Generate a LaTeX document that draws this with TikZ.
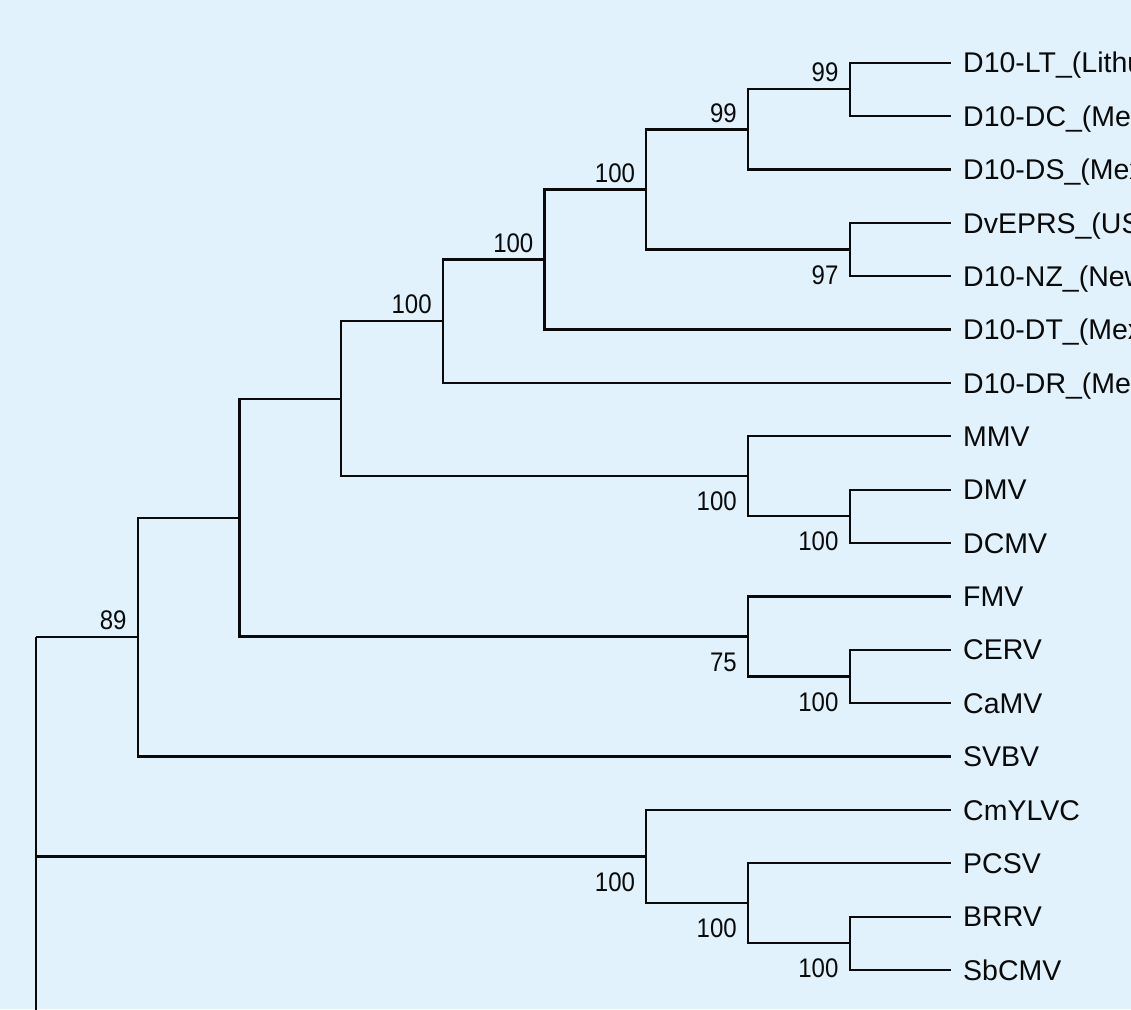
\documentclass[tikz,border=0pt]{standalone}
\usepackage{fontspec}
\setmainfont{Liberation Sans}
\definecolor{bgblue}{RGB}{225,242,252}
\definecolor{inkc}{RGB}{10,10,10}
\begin{document}
\begin{tikzpicture}[x=1pt,y=-1pt,
  branch/.style={line width=2.2pt, draw=inkc, line join=miter},
  leaf/.style={anchor=base west, inner sep=0pt, xshift=11.7pt, yshift=-10.2pt,
    font=\fontsize{28.5}{30}\selectfont, text=inkc},
  bootA/.style={anchor=base east, inner sep=0pt, xshift=-11pt, yshift=7.4pt,
    font=\fontsize{24}{26}\selectfont, text=inkc},
  bootB/.style={anchor=base east, inner sep=0pt, xshift=-11pt, yshift=-34.6pt,
    font=\fontsize{24}{26}\selectfont, text=inkc}]
\useasboundingbox (0,0) rectangle (1131,1009);
\fill[bgblue] (0,0) rectangle (1131,1009);
\clip (0,0) rectangle (1131,1009);

% tips
\coordinate (t0) at (951.3,62.7);
\coordinate (t1) at (951.3,116.07);
\coordinate (t2) at (951.3,169.44);
\coordinate (t3) at (951.3,222.81);
\coordinate (t4) at (951.3,276.18);
\coordinate (t5) at (951.3,329.55);
\coordinate (t6) at (951.3,382.92);
\coordinate (t7) at (951.3,436.29);
\coordinate (t8) at (951.3,489.66);
\coordinate (t9) at (951.3,543.03);
\coordinate (t10) at (951.3,596.4);
\coordinate (t11) at (951.3,649.77);
\coordinate (t12) at (951.3,703.14);
\coordinate (t13) at (951.3,756.51);
\coordinate (t14) at (951.3,809.88);
\coordinate (t15) at (951.3,863.25);
\coordinate (t16) at (951.3,916.62);
\coordinate (t17) at (951.3,969.99);

% internal nodes
\coordinate (a) at (849.6,89.39);
\coordinate (b) at (747.9,129.41);
\coordinate (c) at (849.6,249.5);
\coordinate (d) at (646.2,189.46);
\coordinate (e) at (544.5,259.5);
\coordinate (f) at (442.8,321.21);
\coordinate (h) at (849.6,516.35);
\coordinate (g) at (747.9,476.32);
\coordinate (i) at (341.1,398.76);
\coordinate (j) at (849.6,676.46);
\coordinate (k) at (747.9,636.43);
\coordinate (l) at (239.4,517.6);
\coordinate (m) at (137.7,637.05);
\coordinate (n) at (849.6,943.3);
\coordinate (o) at (747.9,903.28);
\coordinate (p) at (646.2,856.58);
\coordinate (root) at (36,637.05);
\coordinate (rootlow) at (36,1020);

% leaf labels
\node[leaf] (LT) at (t0) {D10-LT\_(Lithu};
\node[leaf] (DC) at (t1) {D10-DC\_(Mex};
\node[leaf] (DS) at (t2) {D10-DS\_(Mex};
\node[leaf] (DV) at (t3) {DvEPRS\_(USA};
\node[leaf] (NZ) at (t4) {D10-NZ\_(New};
\node[leaf] (DT) at (t5) {D10-DT\_(Mex};
\node[leaf] (DR) at (t6) {D10-DR\_(Mex};
\node[leaf] (MMV) at (t7) {MMV};
\node[leaf] (DMV) at (t8) {DMV};
\node[leaf] (DCMV) at (t9) {DCMV};
\node[leaf] (FMV) at (t10) {FMV};
\node[leaf] (CERV) at (t11) {CERV};
\node[leaf] (CaMV) at (t12) {CaMV};
\node[leaf] (SVBV) at (t13) {SVBV};
\node[leaf] (CmYLVC) at (t14) {CmYLVC};
\node[leaf] (PCSV) at (t15) {PCSV};
\node[leaf] (BRRV) at (t16) {BRRV};
\node[leaf] (SbCMV) at (t17) {SbCMV};

% branches
\draw[branch] (a) |- (t0);
\draw[branch] (a) |- (t1);
\draw[branch] (b) |- (a);
\draw[branch] (b) |- (t2);
\draw[branch] (c) |- (t3);
\draw[branch] (c) |- (t4);
\draw[branch] (d) |- (b);
\draw[branch] (d) |- (c);
\draw[branch] (e) |- (d);
\draw[branch] (e) |- (t5);
\draw[branch] (f) |- (e);
\draw[branch] (f) |- (t6);
\draw[branch] (h) |- (t8);
\draw[branch] (h) |- (t9);
\draw[branch] (g) |- (t7);
\draw[branch] (g) |- (h);
\draw[branch] (i) |- (f);
\draw[branch] (i) |- (g);
\draw[branch] (j) |- (t11);
\draw[branch] (j) |- (t12);
\draw[branch] (k) |- (t10);
\draw[branch] (k) |- (j);
\draw[branch] (l) |- (i);
\draw[branch] (l) |- (k);
\draw[branch] (m) |- (l);
\draw[branch] (m) |- (t13);
\draw[branch] (n) |- (t16);
\draw[branch] (n) |- (t17);
\draw[branch] (o) |- (t15);
\draw[branch] (o) |- (n);
\draw[branch] (p) |- (t14);
\draw[branch] (p) |- (o);
\draw[branch] (root) |- (m);
\draw[branch] (root) |- (p);
\draw[branch] (root) -- (rootlow);

% bootstrap values
\node[bootA] (la) at (a) {\scalebox{1}[1.12]{99}};
\node[bootA] (lb) at (b) {\scalebox{1}[1.12]{99}};
\node[bootB] (lc) at (c) {\scalebox{1}[1.12]{97}};
\node[bootA] (ld) at (d) {\scalebox{1}[1.12]{100}};
\node[bootA] (le) at (e) {\scalebox{1}[1.12]{100}};
\node[bootA] (lf) at (f) {\scalebox{1}[1.12]{100}};
\node[bootB] (lh) at (h) {\scalebox{1}[1.12]{100}};
\node[bootB] (lg) at (g) {\scalebox{1}[1.12]{100}};
\node[bootB] (lj) at (j) {\scalebox{1}[1.12]{100}};
\node[bootB] (lk) at (k) {\scalebox{1}[1.12]{75}};
\node[bootA] (lm) at (m) {\scalebox{1}[1.12]{89}};
\node[bootB] (ln) at (n) {\scalebox{1}[1.12]{100}};
\node[bootB] (lo) at (o) {\scalebox{1}[1.12]{100}};
\node[bootB] (lp) at (p) {\scalebox{1}[1.12]{100}};
\end{tikzpicture}
\end{document}
